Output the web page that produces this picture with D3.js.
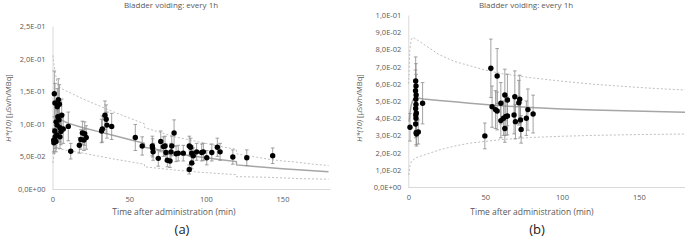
<!DOCTYPE html>
<html>
<head>
<meta charset="utf-8">
<script src="https://cdn.jsdelivr.net/npm/d3@7"></script>
<style>
  body { margin: 0; background: #ffffff; }
  svg { display: block; font-family: "Open Sans", sans-serif; }
</style>
</head>
<body>
<div id="chart"></div>
<script>
// panel (a) measurements
var timeA = [1.2, 1.6, 3.8, 4.5, 3.1, 6.0, 2.3, 3.0, 1.5, 4.9, 7.0, 10.3, 1.7, 4.9, 2.3, 0.8, 2.8, 5.5, 0.9, 3.5, 4.2,
    11.9, 17.5, 18.5, 19.5, 21, 20.5, 22, 32, 32.5, 34.2, 35, 35.5, 38.6, 54, 58.5,
    65.1, 65.3, 65.6, 69, 70.6, 72.3, 73.4, 74, 74.9, 76.6, 77.3, 77.8, 79.3, 80.6, 82, 85.3,
    89.2, 90.1, 90.8, 89.2, 90.8, 91.8, 94, 97.3, 98.4, 100.6, 103.9, 107.5, 109.3, 117.6, 126.7, 143.6];
var valueA = [0.146, 0.132, 0.137, 0.130, 0.126, 0.113, 0.103, 0.098, 0.089, 0.094, 0.092, 0.096, 0.080, 0.080, 0.073, 0.075, 0.083, 0.088, 0.071, 0.111, 0.106,
    0.058, 0.067, 0.076, 0.086, 0.085, 0.075, 0.079, 0.089, 0.092, 0.113, 0.107, 0.098, 0.096, 0.079, 0.066,
    0.066, 0.063, 0.057, 0.047, 0.073, 0.065, 0.066, 0.056, 0.044, 0.043, 0.057, 0.066, 0.086, 0.054, 0.055, 0.055,
    0.066, 0.064, 0.055, 0.030, 0.040, 0.051, 0.057, 0.056, 0.057, 0.048, 0.056, 0.064, 0.057, 0.049, 0.048, 0.051];
var errA = [0.035, 0.030, 0.032, 0.030, 0.028, 0.025, 0.025, 0.022, 0.020, 0.022, 0.022, 0.022, 0.018, 0.018, 0.016, 0.018, 0.020, 0.020, 0.016, 0.025, 0.024,
    0.012, 0.012, 0.015, 0.018, 0.018, 0.016, 0.018, 0.018, 0.020, 0.022, 0.022, 0.020, 0.020, 0.020, 0.014,
    0.015, 0.014, 0.013, 0.012, 0.016, 0.015, 0.015, 0.013, 0.010, 0.010, 0.013, 0.015, 0.020, 0.012, 0.012, 0.012,
    0.015, 0.014, 0.012, 0.007, 0.009, 0.012, 0.013, 0.013, 0.013, 0.011, 0.013, 0.014, 0.013, 0.011, 0.012, 0.012];

// panel (a) model curves (voiding drops at 60 and 120 min)
var fitTimeA = [2, 10, 20, 30, 40, 50, 59.9, 60.1, 70, 80, 90, 100, 110, 119.9, 120.1, 130, 140, 150, 160, 170, 180];
var fitMidA = [0.110, 0.101, 0.094, 0.088, 0.082, 0.076, 0.070, 0.064, 0.060, 0.055, 0.051, 0.048, 0.045, 0.042, 0.037, 0.035, 0.033, 0.031, 0.0295, 0.028, 0.0265];
var upTimeA = [0.3, 1, 3, 5, 20, 40, 59.9, 60.1, 70, 80, 90, 100, 110, 119.9, 120.1, 130, 140, 150, 160, 170, 180];
var fitUpA = [0.205, 0.19, 0.162, 0.155, 0.138, 0.118, 0.100, 0.094, 0.087, 0.080, 0.075, 0.070, 0.065, 0.061, 0.054, 0.050, 0.046, 0.043, 0.041, 0.038, 0.036];
var lowTimeA = [0.2, 1.5, 3, 20, 40, 59.9, 60.1, 80, 100, 119.9, 120.1, 140, 160, 180];
var fitLowA = [0.040, 0.058, 0.062, 0.055, 0.046, 0.038, 0.034, 0.029, 0.025, 0.022, 0.019, 0.018, 0.016, 0.015];

// panel (b) measurements
var timeB = [1.1, 4.8, 5.0, 4.7, 5.1, 4.9, 5.0, 4.8, 5.2, 4.9, 5.0, 4.8, 5.1, 5.3, 6.5, 9.3,
    53.7, 57.8, 54.5, 56.7, 57.8, 60.2, 60.2, 62.8, 64.5, 61.9, 63.5, 64.5, 62.8, 49.8,
    69.3, 71.9, 72.5, 68.8, 69.7, 73, 73.4, 76.8, 77.8, 81.2];
var valueB = [0.0347, 0.0616, 0.0587, 0.0560, 0.0535, 0.0510, 0.0480, 0.0457, 0.0430, 0.0419, 0.0400, 0.0366, 0.0316, 0.0308, 0.0320, 0.0487,
    0.0690, 0.0645, 0.0467, 0.0450, 0.0442, 0.0487, 0.0386, 0.0535, 0.0506, 0.0400, 0.0410, 0.0413, 0.0340, 0.0297,
    0.0525, 0.0490, 0.0510, 0.0419, 0.0380, 0.0390, 0.0335, 0.0400, 0.0450, 0.0424];
var errB = [0.008, 0.014, 0.013, 0.012, 0.012, 0.011, 0.011, 0.010, 0.010, 0.009, 0.009, 0.008, 0.007, 0.007, 0.007, 0.012,
    0.017, 0.016, 0.012, 0.011, 0.011, 0.012, 0.010, 0.015, 0.015, 0.010, 0.011, 0.011, 0.008, 0.0075,
    0.015, 0.013, 0.014, 0.011, 0.010, 0.010, 0.008, 0.010, 0.012, 0.011];

// panel (b) model curves
var fitTimeB = [0.5, 1, 2, 3, 4, 6, 10, 20, 30, 40, 50, 60, 80, 100, 120, 140, 160, 180];
var fitMidB = [0.038, 0.043, 0.048, 0.0505, 0.0515, 0.0517, 0.0512, 0.0503, 0.0495, 0.0487, 0.0479, 0.0472, 0.0462, 0.0454, 0.0448, 0.0443, 0.0439, 0.0435];
var upTimeB = [0.2, 1, 2, 3, 5, 10, 20, 30, 40, 50, 60, 80, 100, 120, 140, 160, 180];
var fitUpB = [0.060, 0.080, 0.086, 0.087, 0.086, 0.083, 0.077, 0.073, 0.0705, 0.068, 0.066, 0.0635, 0.0615, 0.0598, 0.0585, 0.0573, 0.0564];
var lowTimeB = [0.3, 1, 2, 5, 10, 20, 30, 40, 50, 60, 80, 100, 120, 150, 180];
var fitLowB = [0.007, 0.012, 0.015, 0.017, 0.0185, 0.0215, 0.0238, 0.0255, 0.0265, 0.0275, 0.0288, 0.0295, 0.030, 0.0305, 0.0308];

var xTicks = [0, 50, 100, 150];

function sciLabel(v) {
    if (v === 0) return "0,0E+00";
    var e = Math.floor(Math.log10(v) + 1e-9);
    var m = v / Math.pow(10, e);
    var ex = Math.abs(e);
    return m.toFixed(1).replace(".", ",") + "E" + (e < 0 ? "-" : "+") + (ex < 10 ? "0" + ex : ex);
}

var svg = d3.select("#chart")
    .append("svg")
    .attr("width", 685)
    .attr("height", 242);

function drawPanel(p) {
    var x = d3.scaleLinear().domain([0, 180]).range([p.left, p.right]);
    var y = d3.scaleLinear().domain([0, p.ymax]).range([p.bottom, p.top]);
    var g = svg.append("g");

    var yAxis = d3.axisLeft(y)
        .tickValues(d3.range(0, p.ymax + p.ystep / 2, p.ystep))
        .tickFormat(sciLabel)
        .tickSize(0)
        .tickPadding(7);
    var gy = g.append("g")
        .attr("transform", "translate(" + p.left + ",0)")
        .call(yAxis);
    gy.select(".domain").attr("stroke", "#d9d9d9");
    gy.selectAll("text").attr("fill", "#595959").style("font-size", "7.5px").style("font-family", "Open Sans");

    var xAxis = d3.axisBottom(x)
        .tickValues(xTicks)
        .tickSize(0)
        .tickPadding(8);
    var gx = g.append("g")
        .attr("transform", "translate(0," + p.bottom + ")")
        .call(xAxis);
    gx.select(".domain").attr("stroke", "#d9d9d9").attr("d", "M" + p.left + ",0.5H" + (p.right + 2));
    gx.selectAll("text").attr("fill", "#595959").style("font-size", "7.5px").style("font-family", "Open Sans");

    var line = d3.line()
        .x(function (d) { return x(d[0]); })
        .y(function (d) { return y(d[1]); });

    g.append("path")
        .datum(d3.zip(p.upT, p.up))
        .attr("fill", "none")
        .attr("stroke", "#bfbfbf")
        .attr("stroke-width", 1)
        .attr("stroke-dasharray", "2,2")
        .attr("d", line);
    g.append("path")
        .datum(d3.zip(p.lowT, p.low))
        .attr("fill", "none")
        .attr("stroke", "#bfbfbf")
        .attr("stroke-width", 1)
        .attr("stroke-dasharray", "2,2")
        .attr("d", line);
    g.append("path")
        .datum(d3.zip(p.midT, p.mid))
        .attr("fill", "none")
        .attr("stroke", "#a6a6a6")
        .attr("stroke-width", 1.5)
        .attr("d", line);

    var pts = d3.zip(p.t, p.v, p.e);
    var bars = g.selectAll(".err")
        .data(pts)
        .enter()
        .append("g")
        .attr("class", "err")
        .attr("stroke", "#8c8c8c")
        .attr("stroke-width", 0.8);
    bars.append("line")
        .attr("x1", function (d) { return x(d[0]); })
        .attr("x2", function (d) { return x(d[0]); })
        .attr("y1", function (d) { return y(d[1] - d[2]); })
        .attr("y2", function (d) { return y(d[1] + d[2]); });
    bars.append("line")
        .attr("x1", function (d) { return x(d[0]) - 1.8; })
        .attr("x2", function (d) { return x(d[0]) + 1.8; })
        .attr("y1", function (d) { return y(d[1] + d[2]); })
        .attr("y2", function (d) { return y(d[1] + d[2]); });
    bars.append("line")
        .attr("x1", function (d) { return x(d[0]) - 1.8; })
        .attr("x2", function (d) { return x(d[0]) + 1.8; })
        .attr("y1", function (d) { return y(d[1] - d[2]); })
        .attr("y2", function (d) { return y(d[1] - d[2]); });

    g.selectAll(".dot")
        .data(pts)
        .enter()
        .append("circle")
        .attr("class", "dot")
        .attr("cx", function (d) { return x(d[0]); })
        .attr("cy", function (d) { return y(d[1]); })
        .attr("r", 2.7)
        .attr("fill", "#000000");

    g.append("text")
        .attr("x", p.titleX)
        .attr("y", 8)
        .attr("text-anchor", "middle")
        .attr("fill", "#595959")
        .style("font-size", "8px")
        .text("Bladder voiding: every 1h");

    g.append("text")
        .attr("x", p.xTitleX)
        .attr("y", 215)
        .attr("text-anchor", "middle")
        .attr("fill", "#595959")
        .style("font-size", "8.5px")
        .text("Time after administration (min)");

    var yt = g.append("text")
        .attr("transform", "translate(" + p.yTitleX + ",108) rotate(-90)")
        .attr("text-anchor", "middle")
        .attr("fill", "#595959")
        .style("font-size", "7.5px");
    yt.append("tspan").style("font-style", "italic").text("H*(10)");
    yt.append("tspan").text(" [µSv/h/MBq]");

    g.append("text")
        .attr("x", p.labelX)
        .attr("y", 234)
        .attr("text-anchor", "middle")
        .attr("fill", "#1a1a1a")
        .style("font-size", "13px")
        .text(p.label);
}

drawPanel({
    left: 52.5, right: 328.5, top: 26, bottom: 189, ymax: 0.25, ystep: 0.05,
    t: timeA, v: valueA, e: errA,
    midT: fitTimeA, mid: fitMidA, upT: upTimeA, up: fitUpA, lowT: lowTimeA, low: fitLowA,
    titleX: 171, xTitleX: 174, yTitleX: 11, labelX: 182, label: "(a)"
});

drawPanel({
    left: 408.3, right: 685, top: 15, bottom: 187, ymax: 0.1, ystep: 0.01,
    t: timeB, v: valueB, e: errB,
    midT: fitTimeB, mid: fitMidB, upT: upTimeB, up: fitUpB, lowT: lowTimeB, low: fitLowB,
    titleX: 526, xTitleX: 532, yTitleX: 362, labelX: 537, label: "(b)"
});
</script>
</body>
</html>
